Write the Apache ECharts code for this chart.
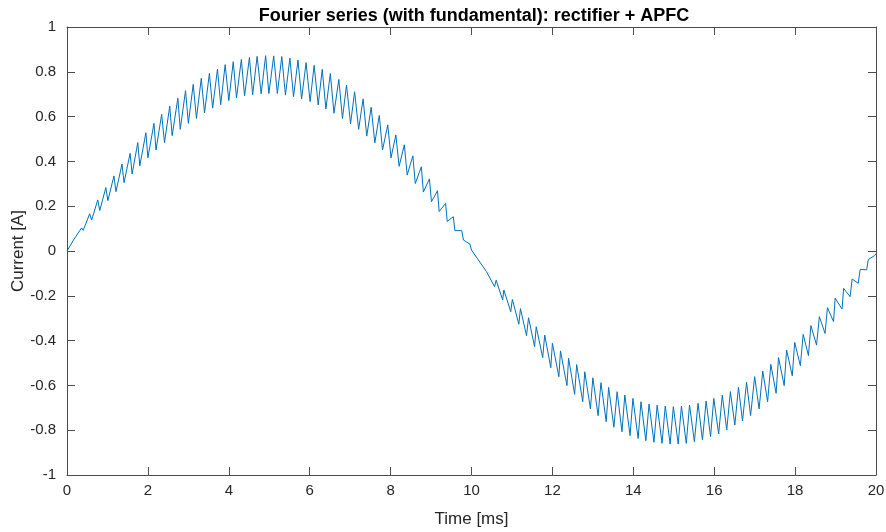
<!DOCTYPE html>
<html>
<head>
<meta charset="utf-8">
<script src="https://cdn.jsdelivr.net/npm/echarts@6/dist/echarts.min.js"></script>
<style>
  html, body { margin: 0; padding: 0; background: #ffffff; }
  #chart { width: 886px; height: 532px; }
</style>
</head>
<body>
<div id="chart"></div>
<script>
// Sample instants of the waveform (ms): local extremes of the switching ripple
const timeMs = [
  0.00, 0.16, 0.20, 0.36, 0.40, 0.56, 0.61, 0.76, 0.81, 0.96,
  1.01, 1.16, 1.21, 1.36, 1.41, 1.56, 1.61, 1.75, 1.80, 1.95,
  2.00, 2.15, 2.20, 2.34, 2.41, 2.54, 2.60, 2.74, 2.80, 2.93,
  3.00, 3.12, 3.20, 3.32, 3.40, 3.52, 3.60, 3.72, 3.80, 3.91,
  4.00, 4.11, 4.19, 4.31, 4.39, 4.51, 4.59, 4.70, 4.80, 4.91,
  4.99, 5.11, 5.20, 5.31, 5.40, 5.51, 5.60, 5.71, 5.80, 5.91,
  6.01, 6.11, 6.21, 6.31, 6.40, 6.51, 6.60, 6.72, 6.81, 6.91,
  7.01, 7.11, 7.21, 7.32, 7.41, 7.52, 7.61, 7.72, 7.80, 7.93,
  8.01, 8.13, 8.21, 8.34, 8.41, 8.55, 8.61, 8.76, 8.81, 8.96,
  9.01, 9.16, 9.20, 9.36, 9.40, 9.55, 9.59, 9.76, 9.80, 9.96,
  10.00, 10.17, 10.20, 10.37, 10.41, 10.57, 10.61, 10.77, 10.80, 10.97,
  11.01, 11.17, 11.21, 11.36, 11.41, 11.56, 11.60, 11.76, 11.81, 11.96,
  12.00, 12.16, 12.20, 12.36, 12.40, 12.55, 12.60, 12.75, 12.80, 12.94,
  13.00, 13.13, 13.20, 13.33, 13.39, 13.52, 13.60, 13.72, 13.79, 13.92,
  13.99, 14.12, 14.19, 14.31, 14.39, 14.51, 14.59, 14.71, 14.79, 14.91,
  14.99, 15.11, 15.19, 15.31, 15.39, 15.51, 15.60, 15.71, 15.80, 15.91,
  15.99, 16.11, 16.20, 16.31, 16.40, 16.51, 16.60, 16.70, 16.80, 16.90,
  17.00, 17.11, 17.20, 17.32, 17.40, 17.53, 17.59, 17.73, 17.79, 17.93,
  17.99, 18.13, 18.20, 18.33, 18.39, 18.53, 18.60, 18.74, 18.80, 18.95,
  18.99, 19.16, 19.20, 19.36, 19.41, 19.56, 19.61, 19.77, 19.81, 19.97,
  20.00
];

// Line current (A) at those instants
const currentA = [
  0.000, 0.049, 0.047, 0.103, 0.092, 0.166, 0.138, 0.228, 0.181, 0.283,
  0.225, 0.335, 0.265, 0.388, 0.305, 0.436, 0.344, 0.484, 0.380, 0.528,
  0.416, 0.570, 0.451, 0.610, 0.484, 0.647, 0.515, 0.682, 0.543, 0.716,
  0.570, 0.744, 0.592, 0.771, 0.616, 0.793, 0.638, 0.812, 0.653, 0.832,
  0.671, 0.845, 0.683, 0.855, 0.692, 0.864, 0.698, 0.869, 0.702, 0.872,
  0.703, 0.871, 0.703, 0.868, 0.696, 0.861, 0.689, 0.852, 0.679, 0.841,
  0.667, 0.829, 0.652, 0.811, 0.634, 0.792, 0.615, 0.766, 0.592, 0.741,
  0.568, 0.711, 0.543, 0.679, 0.513, 0.642, 0.483, 0.605, 0.451, 0.563,
  0.416, 0.518, 0.378, 0.474, 0.339, 0.425, 0.301, 0.376, 0.263, 0.322,
  0.220, 0.269, 0.176, 0.213, 0.132, 0.153, 0.091, 0.091, 0.049, 0.031,
  0.004, -0.040, -0.043, -0.092, -0.085, -0.159, -0.130, -0.219, -0.174, -0.271,
  -0.216, -0.327, -0.257, -0.378, -0.298, -0.427, -0.338, -0.476, -0.375, -0.521,
  -0.412, -0.561, -0.446, -0.601, -0.479, -0.640, -0.507, -0.673, -0.539, -0.705,
  -0.566, -0.735, -0.588, -0.762, -0.609, -0.787, -0.628, -0.807, -0.643, -0.824,
  -0.658, -0.837, -0.673, -0.847, -0.683, -0.854, -0.688, -0.859, -0.692, -0.862,
  -0.695, -0.862, -0.692, -0.859, -0.688, -0.851, -0.680, -0.844, -0.670, -0.829,
  -0.658, -0.817, -0.643, -0.799, -0.628, -0.777, -0.608, -0.759, -0.586, -0.735,
  -0.561, -0.705, -0.536, -0.673, -0.506, -0.635, -0.476, -0.601, -0.442, -0.557,
  -0.408, -0.512, -0.372, -0.467, -0.333, -0.420, -0.293, -0.368, -0.253, -0.315,
  -0.211, -0.259, -0.167, -0.204, -0.125, -0.144, -0.082, -0.084, -0.038, -0.020,
  -0.012
];

// Axis ticks
const xTickValues = [0, 2, 4, 6, 8, 10, 12, 14, 16, 18, 20];
const yTickLabels = ['-1', '-0.8', '-0.6', '-0.4', '-0.2', '0', '0.2', '0.4', '0.6', '0.8', '1'];

const titleText = 'Fourier series (with fundamental): rectifier + APFC';
const xName = 'Time [ms]';
const yName = 'Current [A]';

const FONT = 'Liberation Sans, Arial, Helvetica, sans-serif';
const AXIS_COLOR = '#4d4d4d';
const TEXT_COLOR = '#262626';

const chart = echarts.init(document.getElementById('chart'), null, { renderer: 'canvas' });

const seriesData = timeMs.map((t, i) => [t, currentA[i]]);
const yLabelFor = v => {
  const idx = Math.round((v + 1) / 0.2);
  return yTickLabels[idx] !== undefined ? yTickLabels[idx] : '';
};

// Box-style frame: every side carries a line and inward ticks
const frameAxis = () => ({
  axisLine: { show: true, onZero: false, lineStyle: { color: AXIS_COLOR, width: 1 } },
  axisTick: { show: true, inside: true, length: 8, lineStyle: { color: AXIS_COLOR, width: 1 } },
  splitLine: { show: false }
});

const xRange = {
  type: 'value',
  min: xTickValues[0],
  max: xTickValues[xTickValues.length - 1],
  interval: xTickValues[1] - xTickValues[0]
};
const yRange = { type: 'value', min: -1, max: 1, interval: 0.2 };

chart.setOption({
  animation: false,
  backgroundColor: '#ffffff',
  title: {
    text: titleText,
    left: 469,
    top: 2,
    textAlign: 'center',
    textStyle: { fontFamily: FONT, fontSize: 18, fontWeight: 'bold', color: '#000000' }
  },
  grid: {
    left: 67, right: 10, top: 27, bottom: 57,
    containLabel: false,
    outerBoundsMode: 'none'
  },
  xAxis: [
    Object.assign({}, xRange, frameAxis(), {
      position: 'bottom',
      name: xName,
      nameLocation: 'middle',
      nameGap: 36,
      nameMoveOverlap: false,
      nameTextStyle: { fontFamily: FONT, fontSize: 17, color: TEXT_COLOR },
      axisLabel: { fontFamily: FONT, fontSize: 15, color: TEXT_COLOR, margin: 8 }
    }),
    Object.assign({}, xRange, frameAxis(), {
      position: 'top',
      axisLabel: { show: false }
    })
  ],
  yAxis: [
    Object.assign({}, yRange, frameAxis(), {
      position: 'left',
      name: yName,
      nameLocation: 'middle',
      nameGap: 40,
      nameRotate: 90,
      nameMoveOverlap: false,
      nameTextStyle: { fontFamily: FONT, fontSize: 17, color: TEXT_COLOR },
      axisLabel: { fontFamily: FONT, fontSize: 15, color: TEXT_COLOR, margin: 11, formatter: yLabelFor }
    }),
    Object.assign({}, yRange, frameAxis(), {
      position: 'right',
      axisLabel: { show: false }
    })
  ],
  series: [{
    type: 'line',
    xAxisIndex: 0,
    yAxisIndex: 0,
    data: seriesData,
    showSymbol: false,
    symbol: 'none',
    smooth: false,
    lineStyle: { color: '#0072BD', width: 1 },
    emphasis: { disabled: true }
  }]
});
</script>
</body>
</html>
